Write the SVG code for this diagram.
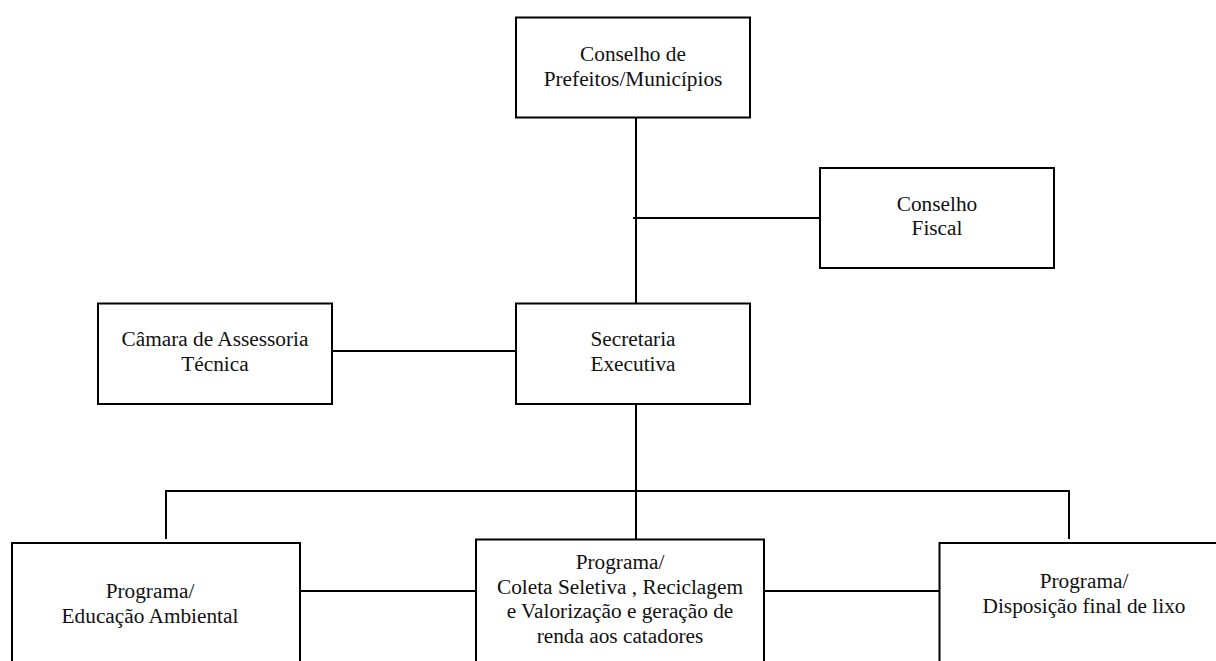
<svg xmlns="http://www.w3.org/2000/svg" width="1216" height="661" viewBox="0 0 1216 661">
<style>
.box{fill:#fff;stroke:#000;stroke-width:2}
.ln{fill:none;stroke:#000;stroke-width:2}
.t{font-size:21.3px;fill:#111;text-anchor:middle}
</style>
<rect width="1216" height="661" fill="#fff"/>
<g id="connectors">
<line class="ln" x1="636" y1="111" x2="636" y2="303"/>
<line class="ln" x1="633" y1="218" x2="820" y2="218"/>
<line class="ln" x1="332" y1="351" x2="519" y2="351"/>
<line class="ln" x1="636" y1="399" x2="636" y2="541"/>
<polyline class="ln" points="166,539 166,491 1069,491 1069,539"/>
<line class="ln" x1="300" y1="591" x2="476" y2="591"/>
<line class="ln" x1="764" y1="591" x2="939" y2="591"/>
</g>
<g font-family="Liberation Serif, Times New Roman, DejaVu Serif, serif">
<g id="conselho-prefeitos">
<rect class="box" x="516" y="17.5" width="234" height="100"/>
<text class="t" x="633" y="61">Conselho de</text>
<text class="t" x="633" y="85.5">Prefeitos/Municípios</text>
</g>
<g id="conselho-fiscal">
<rect class="box" x="820" y="168" width="234" height="100"/>
<text class="t" x="937" y="210.5">Conselho</text>
<text class="t" x="937" y="235">Fiscal</text>
</g>
<g id="camara">
<rect class="box" x="98" y="303.5" width="234" height="100.5"/>
<text class="t" x="215" y="346">Câmara de Assessoria</text>
<text class="t" x="215" y="370.5">Técnica</text>
</g>
<g id="secretaria">
<rect class="box" x="516" y="303.5" width="234" height="100.5"/>
<text class="t" x="633" y="346">Secretaria</text>
<text class="t" x="633" y="370.5">Executiva</text>
</g>
<g id="educacao">
<rect class="box" x="12" y="543" width="288" height="130"/>
<text class="t" x="150" y="598">Programa/</text>
<text class="t" x="150" y="622.5">Educação Ambiental</text>
</g>
<g id="coleta">
<rect class="box" x="476" y="539.5" width="288" height="135"/>
<text class="t" x="620" y="568.5">Programa/</text>
<text class="t" x="620" y="593.5">Coleta Seletiva , Reciclagem</text>
<text class="t" x="620" y="618">e Valorização e geração de</text>
<text class="t" x="620" y="642.5">renda aos catadores</text>
</g>
<g id="disposicao">
<rect class="box" x="939.5" y="543" width="300" height="130"/>
<text class="t" x="1084" y="588">Programa/</text>
<text class="t" x="1084" y="613">Disposição final de lixo</text>
</g>
</g>
</svg>
